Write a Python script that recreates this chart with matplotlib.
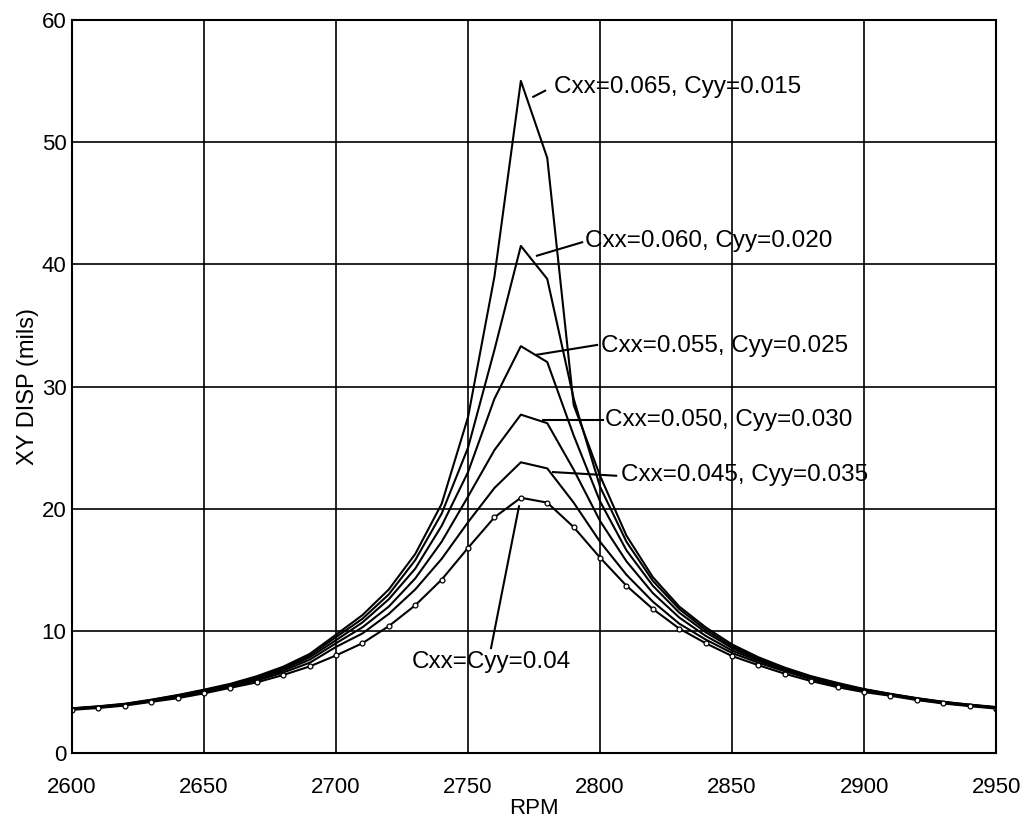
import numpy as np
import matplotlib.pyplot as plt

plt.rcParams['font.family'] = ['Liberation Sans', 'DejaVu Sans']

# rpm steps of 10 from 2600 to 2950
rpm = np.arange(2600, 2951, 10)

# Cxx=Cyy=0.04 (marked curve)
disp_040 = [3.55, 3.7, 3.9, 4.2, 4.5, 4.9, 5.35, 5.8, 6.4, 7.1, 8.0, 9.0, 10.4, 12.1,
            14.2, 16.8, 19.3, 20.9, 20.5, 18.5, 16.0, 13.7, 11.8, 10.2, 9.0, 7.95,
            7.2, 6.5, 5.9, 5.4, 5.0, 4.7, 4.35, 4.07, 3.85, 3.65]
# Cxx=0.045, Cyy=0.035
disp_045 = [3.6, 3.75, 3.95, 4.25, 4.6, 5.0, 5.45, 5.95, 6.6, 7.4, 8.7, 9.8, 11.4, 13.4,
            15.9, 18.9, 21.7, 23.8, 23.3, 20.5, 17.3, 14.6, 12.4, 10.6, 9.3, 8.2,
            7.4, 6.7, 6.05, 5.5, 5.1, 4.75, 4.4, 4.1, 3.9, 3.7]
# Cxx=0.050, Cyy=0.030
disp_050 = [3.62, 3.78, 3.98, 4.3, 4.65, 5.05, 5.5, 6.05, 6.75, 7.65, 9.0, 10.3, 12.0, 14.3,
            17.3, 21.0, 24.8, 27.7, 27.0, 23.2, 19.0, 15.7, 13.1, 11.1, 9.6, 8.4,
            7.55, 6.8, 6.15, 5.6, 5.15, 4.8, 4.45, 4.15, 3.92, 3.72]
# Cxx=0.055, Cyy=0.025
disp_055 = [3.64, 3.8, 4.0, 4.32, 4.7, 5.1, 5.58, 6.15, 6.88, 7.85, 9.25, 10.7, 12.6, 15.1,
            18.6, 23.0, 29.0, 33.3, 32.0, 26.0, 20.6, 16.6, 13.7, 11.5, 9.9, 8.6,
            7.65, 6.9, 6.2, 5.65, 5.2, 4.82, 4.47, 4.17, 3.94, 3.74]
# Cxx=0.060, Cyy=0.020
disp_060 = [3.66, 3.82, 4.02, 4.35, 4.73, 5.15, 5.63, 6.22, 6.98, 8.0, 9.5, 11.0, 13.0, 15.8,
            19.6, 25.0, 33.0, 41.5, 38.8, 29.0, 21.8, 17.3, 14.1, 11.8, 10.1, 8.75,
            7.75, 6.95, 6.25, 5.7, 5.22, 4.84, 4.49, 4.19, 3.96, 3.76]
# Cxx=0.065, Cyy=0.015
disp_065 = [3.68, 3.84, 4.05, 4.38, 4.76, 5.2, 5.68, 6.3, 7.08, 8.12, 9.7, 11.3, 13.4, 16.3,
            20.4, 27.5, 39.0, 55.0, 48.7, 28.5, 22.7, 17.8, 14.4, 12.0, 10.3, 8.9,
            7.85, 7.0, 6.3, 5.75, 5.25, 4.86, 4.51, 4.21, 3.98, 3.78]

labels = ['Cxx=0.065, Cyy=0.015', 'Cxx=0.060, Cyy=0.020', 'Cxx=0.055, Cyy=0.025',
          'Cxx=0.050, Cyy=0.030', 'Cxx=0.045, Cyy=0.035', 'Cxx=Cyy=0.04']
# label text anchor (rpm, disp) and leader line ends
label_pos = [(2782.5, 54.5), (2794.3, 41.9), (2800.3, 33.3),
             (2801.8, 27.3), (2807.8, 22.8), (2728.5, 7.5)]
leader_a = [(2774.7, 53.7), (2776.1, 40.7), (2776.1, 32.6),
            (2778.4, 27.3), (2782.2, 23.0), (2758.7, 8.6)]
leader_b = [(2779.2, 54.2), (2793.2, 41.8), (2798.9, 33.4),
            (2801.1, 27.3), (2806.1, 22.7), (2769.3, 20.2)]

fig = plt.figure(figsize=(10.29, 8.25), dpi=100)
ax = fig.add_axes([0.070, 0.087, 0.898, 0.889])

for d in [disp_065, disp_060, disp_055, disp_050, disp_045]:
    ax.plot(rpm, d, color='black', lw=1.5)
ax.plot(rpm, disp_040, color='black', lw=1.5, marker='o', ms=3.5,
        mfc='white', mec='black', mew=0.9)

for i in range(len(labels)):
    ax.plot([leader_a[i][0], leader_b[i][0]], [leader_a[i][1], leader_b[i][1]],
            color='black', lw=1.5)
    ax.text(label_pos[i][0], label_pos[i][1], labels[i], fontsize=17.5,
            ha='left', va='center')

ax.set_xlim(2600, 2950)
ax.set_ylim(0, 60)
ax.set_xticks(np.arange(2600, 2951, 50))
ax.set_yticks(np.arange(0, 61, 10))
ax.grid(True, color='black', lw=1.2)
ax.tick_params(axis='y', labelsize=16, length=0, pad=4)
ax.tick_params(axis='x', labelsize=16, length=0, pad=17)
for s in ax.spines.values():
    s.set_linewidth(1.5)
ax.set_xlabel('RPM', fontsize=16, labelpad=0)
ax.set_ylabel('XY DISP (mils)', fontsize=17, labelpad=2)

fig.savefig('out.png', dpi=100)
